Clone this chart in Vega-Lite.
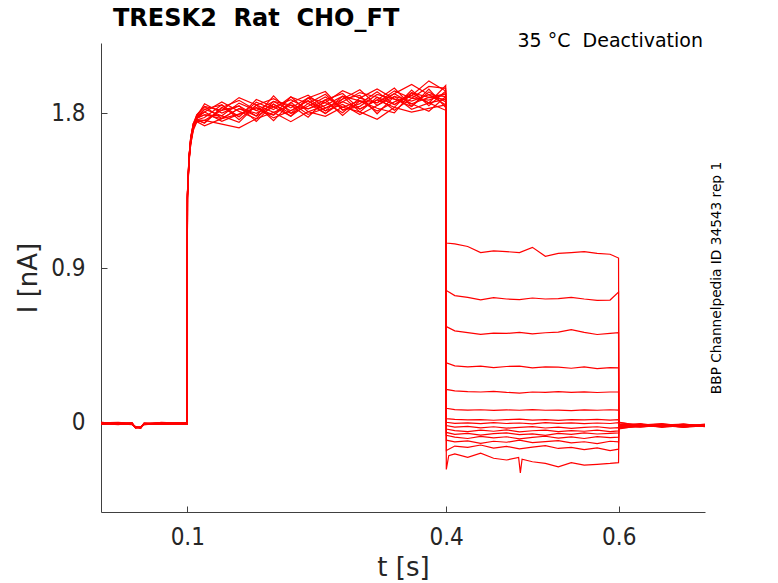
{
  "$schema": "https://vega.github.io/schema/vega-lite/v6.json",
  "width": 604,
  "height": 469,
  "autosize": {"type": "none"},
  "padding": {"left": 101, "top": 43, "right": 73, "bottom": 71},
  "background": "white",
  "config": {"view": {"stroke": null}},
  "layer": [
    {
      "data": {
        "values": [
          {"s":1,"t":0,"i":0.002},{"s":1,"t":0.02,"i":-0.006},{"s":1,"t":0.036,"i":-0.004},{"s":1,"t":0.04,"i":-0.025},{"s":1,"t":0.046,"i":-0.027},{"s":1,"t":0.05,"i":-0.005},{"s":1,"t":0.07,"i":-0.002},{"s":1,"t":0.0998,"i":-0.006},
          {"s":1,"t":0.1002,"i":1.33},{"s":1,"t":0.102,"i":1.54},{"s":1,"t":0.104,"i":1.65},{"s":1,"t":0.107,"i":1.73},{"s":1,"t":0.111,"i":1.78},
          {"s":1,"t":0.12,"i":1.822},{"s":1,"t":0.14,"i":1.784},{"s":1,"t":0.16,"i":1.858},{"s":1,"t":0.18,"i":1.815},{"s":1,"t":0.2,"i":1.788},{"s":1,"t":0.22,"i":1.894},{"s":1,"t":0.24,"i":1.856},{"s":1,"t":0.26,"i":1.797},{"s":1,"t":0.28,"i":1.882},{"s":1,"t":0.3,"i":1.935},{"s":1,"t":0.32,"i":1.844},{"s":1,"t":0.34,"i":1.913},{"s":1,"t":0.36,"i":1.966},{"s":1,"t":0.38,"i":1.907},{"s":1,"t":0.3995,"i":1.896},
          {"s":1,"t":0.4002,"i":1.045},{"s":1,"t":0.41,"i":1.04},{"s":1,"t":0.425,"i":1.025},{"s":1,"t":0.44,"i":0.99},{"s":1,"t":0.455,"i":1.0},{"s":1,"t":0.47,"i":0.995},{"s":1,"t":0.485,"i":0.99},{"s":1,"t":0.5,"i":1.02},{"s":1,"t":0.515,"i":0.968},{"s":1,"t":0.53,"i":0.985},{"s":1,"t":0.545,"i":0.99},{"s":1,"t":0.56,"i":0.995},{"s":1,"t":0.575,"i":0.985},{"s":1,"t":0.59,"i":0.98},{"s":1,"t":0.5998,"i":0.958},
          {"s":1,"t":0.6002,"i":-0.012},{"s":1,"t":0.625,"i":-0.02},{"s":1,"t":0.65,"i":-0.008},{"s":1,"t":0.675,"i":-0.018},{"s":1,"t":0.7,"i":-0.014},

          {"s":2,"t":0,"i":-0.008},{"s":2,"t":0.02,"i":0.001},{"s":2,"t":0.036,"i":-0.007},{"s":2,"t":0.04,"i":-0.022},{"s":2,"t":0.046,"i":-0.03},{"s":2,"t":0.05,"i":-0.003},{"s":2,"t":0.07,"i":-0.008},{"s":2,"t":0.0998,"i":0.002},
          {"s":2,"t":0.1002,"i":1.31},{"s":2,"t":0.102,"i":1.52},{"s":2,"t":0.104,"i":1.63},{"s":2,"t":0.107,"i":1.71},{"s":2,"t":0.111,"i":1.76},
          {"s":2,"t":0.12,"i":1.742},{"s":2,"t":0.14,"i":1.832},{"s":2,"t":0.16,"i":1.778},{"s":2,"t":0.18,"i":1.879},{"s":2,"t":0.2,"i":1.836},{"s":2,"t":0.22,"i":1.782},{"s":2,"t":0.24,"i":1.888},{"s":2,"t":0.26,"i":1.925},{"s":2,"t":0.28,"i":1.818},{"s":2,"t":0.3,"i":1.855},{"s":2,"t":0.32,"i":1.924},{"s":2,"t":0.34,"i":1.849},{"s":2,"t":0.36,"i":1.902},{"s":2,"t":0.38,"i":1.987},{"s":2,"t":0.3995,"i":1.928},
          {"s":2,"t":0.4002,"i":0.77},{"s":2,"t":0.41,"i":0.74},{"s":2,"t":0.425,"i":0.73},{"s":2,"t":0.44,"i":0.715},{"s":2,"t":0.455,"i":0.728},{"s":2,"t":0.47,"i":0.72},{"s":2,"t":0.485,"i":0.716},{"s":2,"t":0.5,"i":0.726},{"s":2,"t":0.515,"i":0.72},{"s":2,"t":0.53,"i":0.722},{"s":2,"t":0.545,"i":0.73},{"s":2,"t":0.56,"i":0.72},{"s":2,"t":0.575,"i":0.712},{"s":2,"t":0.59,"i":0.714},{"s":2,"t":0.5998,"i":0.76},
          {"s":2,"t":0.6002,"i":-0.005},{"s":2,"t":0.625,"i":-0.015},{"s":2,"t":0.65,"i":-0.022},{"s":2,"t":0.675,"i":-0.01},{"s":2,"t":0.7,"i":-0.017},

          {"s":3,"t":0,"i":-0.003},{"s":3,"t":0.02,"i":-0.009},{"s":3,"t":0.036,"i":0.002},{"s":3,"t":0.04,"i":-0.028},{"s":3,"t":0.046,"i":-0.024},{"s":3,"t":0.05,"i":-0.008},{"s":3,"t":0.07,"i":0.003},{"s":3,"t":0.0998,"i":-0.004},
          {"s":3,"t":0.1002,"i":1.34},{"s":3,"t":0.102,"i":1.55},{"s":3,"t":0.104,"i":1.66},{"s":3,"t":0.107,"i":1.74},{"s":3,"t":0.111,"i":1.77},
          {"s":3,"t":0.12,"i":1.806},{"s":3,"t":0.14,"i":1.864},{"s":3,"t":0.16,"i":1.81},{"s":3,"t":0.18,"i":1.767},{"s":3,"t":0.2,"i":1.868},{"s":3,"t":0.22,"i":1.846},{"s":3,"t":0.24,"i":1.776},{"s":3,"t":0.26,"i":1.877},{"s":3,"t":0.28,"i":1.914},{"s":3,"t":0.3,"i":1.823},{"s":3,"t":0.32,"i":1.876},{"s":3,"t":0.34,"i":1.945},{"s":3,"t":0.36,"i":1.838},{"s":3,"t":0.38,"i":1.923},{"s":3,"t":0.3995,"i":1.864},
          {"s":3,"t":0.4002,"i":0.56},{"s":3,"t":0.41,"i":0.535},{"s":3,"t":0.425,"i":0.525},{"s":3,"t":0.44,"i":0.515},{"s":3,"t":0.455,"i":0.522},{"s":3,"t":0.47,"i":0.52},{"s":3,"t":0.485,"i":0.526},{"s":3,"t":0.5,"i":0.518},{"s":3,"t":0.515,"i":0.524},{"s":3,"t":0.53,"i":0.528},{"s":3,"t":0.545,"i":0.542},{"s":3,"t":0.56,"i":0.526},{"s":3,"t":0.575,"i":0.514},{"s":3,"t":0.59,"i":0.52},{"s":3,"t":0.5998,"i":0.524},
          {"s":3,"t":0.6002,"i":-0.02},{"s":3,"t":0.625,"i":-0.008},{"s":3,"t":0.65,"i":-0.016},{"s":3,"t":0.675,"i":-0.024},{"s":3,"t":0.7,"i":-0.01},

          {"s":4,"t":0,"i":0.004},{"s":4,"t":0.02,"i":-0.003},{"s":4,"t":0.036,"i":-0.008},{"s":4,"t":0.04,"i":-0.024},{"s":4,"t":0.046,"i":-0.029},{"s":4,"t":0.05,"i":-0.002},{"s":4,"t":0.07,"i":-0.007},{"s":4,"t":0.0998,"i":-0.001},
          {"s":4,"t":0.1002,"i":1.3},{"s":4,"t":0.102,"i":1.51},{"s":4,"t":0.104,"i":1.62},{"s":4,"t":0.107,"i":1.7},{"s":4,"t":0.111,"i":1.75},
          {"s":4,"t":0.12,"i":1.758},{"s":4,"t":0.14,"i":1.736},{"s":4,"t":0.16,"i":1.714},{"s":4,"t":0.18,"i":1.767},{"s":4,"t":0.2,"i":1.804},{"s":4,"t":0.22,"i":1.75},{"s":4,"t":0.24,"i":1.808},{"s":4,"t":0.26,"i":1.781},{"s":4,"t":0.28,"i":1.834},{"s":4,"t":0.3,"i":1.807},{"s":4,"t":0.32,"i":1.764},{"s":4,"t":0.34,"i":1.833},{"s":4,"t":0.36,"i":1.806},{"s":4,"t":0.38,"i":1.827},{"s":4,"t":0.3995,"i":1.848},
          {"s":4,"t":0.4002,"i":0.35},{"s":4,"t":0.41,"i":0.332},{"s":4,"t":0.425,"i":0.326},{"s":4,"t":0.44,"i":0.33},{"s":4,"t":0.455,"i":0.322},{"s":4,"t":0.47,"i":0.328},{"s":4,"t":0.485,"i":0.33},{"s":4,"t":0.5,"i":0.32},{"s":4,"t":0.515,"i":0.326},{"s":4,"t":0.53,"i":0.324},{"s":4,"t":0.545,"i":0.318},{"s":4,"t":0.56,"i":0.326},{"s":4,"t":0.575,"i":0.316},{"s":4,"t":0.59,"i":0.322},{"s":4,"t":0.5998,"i":0.32},
          {"s":4,"t":0.6002,"i":0.002},{"s":4,"t":0.625,"i":-0.012},{"s":4,"t":0.65,"i":-0.018},{"s":4,"t":0.675,"i":-0.006},{"s":4,"t":0.7,"i":-0.02},

          {"s":5,"t":0,"i":-0.006},{"s":5,"t":0.02,"i":0.002},{"s":5,"t":0.036,"i":-0.003},{"s":5,"t":0.04,"i":-0.027},{"s":5,"t":0.046,"i":-0.023},{"s":5,"t":0.05,"i":-0.009},{"s":5,"t":0.07,"i":-0.001},{"s":5,"t":0.0998,"i":-0.008},
          {"s":5,"t":0.1002,"i":1.33},{"s":5,"t":0.102,"i":1.55},{"s":5,"t":0.104,"i":1.65},{"s":5,"t":0.107,"i":1.73},{"s":5,"t":0.111,"i":1.79},
          {"s":5,"t":0.12,"i":1.838},{"s":5,"t":0.14,"i":1.816},{"s":5,"t":0.16,"i":1.89},{"s":5,"t":0.18,"i":1.847},{"s":5,"t":0.2,"i":1.884},{"s":5,"t":0.22,"i":1.83},{"s":5,"t":0.24,"i":1.888},{"s":5,"t":0.26,"i":1.861},{"s":5,"t":0.28,"i":1.93},{"s":5,"t":0.3,"i":1.887},{"s":5,"t":0.32,"i":1.86},{"s":5,"t":0.34,"i":1.929},{"s":5,"t":0.36,"i":1.886},{"s":5,"t":0.38,"i":1.955},{"s":5,"t":0.3995,"i":1.944},
          {"s":5,"t":0.4002,"i":0.195},{"s":5,"t":0.41,"i":0.186},{"s":5,"t":0.425,"i":0.182},{"s":5,"t":0.44,"i":0.18},{"s":5,"t":0.455,"i":0.184},{"s":5,"t":0.47,"i":0.178},{"s":5,"t":0.485,"i":0.174},{"s":5,"t":0.5,"i":0.18},{"s":5,"t":0.515,"i":0.178},{"s":5,"t":0.53,"i":0.182},{"s":5,"t":0.545,"i":0.178},{"s":5,"t":0.56,"i":0.181},{"s":5,"t":0.575,"i":0.177},{"s":5,"t":0.59,"i":0.18},{"s":5,"t":0.5998,"i":0.18},
          {"s":5,"t":0.6002,"i":-0.025},{"s":5,"t":0.625,"i":-0.014},{"s":5,"t":0.65,"i":-0.006},{"s":5,"t":0.675,"i":-0.016},{"s":5,"t":0.7,"i":-0.012},

          {"s":6,"t":0,"i":-0.001},{"s":6,"t":0.02,"i":-0.007},{"s":6,"t":0.036,"i":-0.005},{"s":6,"t":0.04,"i":-0.023},{"s":6,"t":0.046,"i":-0.028},{"s":6,"t":0.05,"i":-0.004},{"s":6,"t":0.07,"i":0.002},{"s":6,"t":0.0998,"i":-0.005},
          {"s":6,"t":0.1002,"i":1.32},{"s":6,"t":0.102,"i":1.53},{"s":6,"t":0.104,"i":1.64},{"s":6,"t":0.107,"i":1.72},{"s":6,"t":0.111,"i":1.77},
          {"s":6,"t":0.12,"i":1.79},{"s":6,"t":0.14,"i":1.768},{"s":6,"t":0.16,"i":1.826},{"s":6,"t":0.18,"i":1.799},{"s":6,"t":0.2,"i":1.852},{"s":6,"t":0.22,"i":1.798},{"s":6,"t":0.24,"i":1.84},{"s":6,"t":0.26,"i":1.893},{"s":6,"t":0.28,"i":1.834},{"s":6,"t":0.3,"i":1.871},{"s":6,"t":0.32,"i":1.812},{"s":6,"t":0.34,"i":1.865},{"s":6,"t":0.36,"i":1.902},{"s":6,"t":0.38,"i":1.859},{"s":6,"t":0.3995,"i":1.88},
          {"s":6,"t":0.4002,"i":0.085},{"s":6,"t":0.41,"i":0.078},{"s":6,"t":0.425,"i":0.075},{"s":6,"t":0.44,"i":0.077},{"s":6,"t":0.455,"i":0.073},{"s":6,"t":0.47,"i":0.076},{"s":6,"t":0.485,"i":0.074},{"s":6,"t":0.5,"i":0.078},{"s":6,"t":0.515,"i":0.074},{"s":6,"t":0.53,"i":0.075},{"s":6,"t":0.545,"i":0.072},{"s":6,"t":0.56,"i":0.076},{"s":6,"t":0.575,"i":0.074},{"s":6,"t":0.59,"i":0.077},{"s":6,"t":0.5998,"i":0.075},
          {"s":6,"t":0.6002,"i":-0.01},{"s":6,"t":0.625,"i":-0.022},{"s":6,"t":0.65,"i":-0.012},{"s":6,"t":0.675,"i":-0.02},{"s":6,"t":0.7,"i":-0.006},

          {"s":7,"t":0,"i":0.003},{"s":7,"t":0.02,"i":-0.004},{"s":7,"t":0.036,"i":-0.009},{"s":7,"t":0.04,"i":-0.026},{"s":7,"t":0.046,"i":-0.025},{"s":7,"t":0.05,"i":-0.001},{"s":7,"t":0.07,"i":-0.006},{"s":7,"t":0.0998,"i":0.001},
          {"s":7,"t":0.1002,"i":1.31},{"s":7,"t":0.102,"i":1.54},{"s":7,"t":0.104,"i":1.63},{"s":7,"t":0.107,"i":1.73},{"s":7,"t":0.111,"i":1.76},
          {"s":7,"t":0.12,"i":1.774},{"s":7,"t":0.14,"i":1.848},{"s":7,"t":0.16,"i":1.762},{"s":7,"t":0.18,"i":1.847},{"s":7,"t":0.2,"i":1.756},{"s":7,"t":0.22,"i":1.862},{"s":7,"t":0.24,"i":1.904},{"s":7,"t":0.26,"i":1.829},{"s":7,"t":0.28,"i":1.866},{"s":7,"t":0.3,"i":1.919},{"s":7,"t":0.32,"i":1.892},{"s":7,"t":0.34,"i":1.817},{"s":7,"t":0.36,"i":1.886},{"s":7,"t":0.38,"i":1.875},{"s":7,"t":0.3995,"i":1.912},
          {"s":7,"t":0.4002,"i":0.025},{"s":7,"t":0.41,"i":0.021},{"s":7,"t":0.425,"i":0.018},{"s":7,"t":0.44,"i":0.02},{"s":7,"t":0.455,"i":0.016},{"s":7,"t":0.47,"i":0.019},{"s":7,"t":0.485,"i":0.022},{"s":7,"t":0.5,"i":0.017},{"s":7,"t":0.515,"i":0.019},{"s":7,"t":0.53,"i":0.015},{"s":7,"t":0.545,"i":0.02},{"s":7,"t":0.56,"i":0.018},{"s":7,"t":0.575,"i":0.021},{"s":7,"t":0.59,"i":0.017},{"s":7,"t":0.5998,"i":0.019},
          {"s":7,"t":0.6002,"i":-0.015},{"s":7,"t":0.625,"i":-0.004},{"s":7,"t":0.65,"i":-0.02},{"s":7,"t":0.675,"i":-0.01},{"s":7,"t":0.7,"i":-0.022},

          {"s":8,"t":0,"i":-0.007},{"s":8,"t":0.02,"i":-0.001},{"s":8,"t":0.036,"i":0.001},{"s":8,"t":0.04,"i":-0.029},{"s":8,"t":0.046,"i":-0.022},{"s":8,"t":0.05,"i":-0.007},{"s":8,"t":0.07,"i":-0.003},{"s":8,"t":0.0998,"i":-0.007},
          {"s":8,"t":0.1002,"i":1.34},{"s":8,"t":0.102,"i":1.53},{"s":8,"t":0.104,"i":1.66},{"s":8,"t":0.107,"i":1.72},{"s":8,"t":0.111,"i":1.78},
          {"s":8,"t":0.12,"i":1.854},{"s":8,"t":0.14,"i":1.8},{"s":8,"t":0.16,"i":1.842},{"s":8,"t":0.18,"i":1.783},{"s":8,"t":0.2,"i":1.836},{"s":8,"t":0.22,"i":1.878},{"s":8,"t":0.24,"i":1.824},{"s":8,"t":0.26,"i":1.861},{"s":8,"t":0.28,"i":1.802},{"s":8,"t":0.3,"i":1.887},{"s":8,"t":0.32,"i":1.94},{"s":8,"t":0.34,"i":1.881},{"s":8,"t":0.36,"i":1.838},{"s":8,"t":0.38,"i":1.939},{"s":8,"t":0.3995,"i":1.832},
          {"s":8,"t":0.4002,"i":0.004},{"s":8,"t":0.41,"i":-0.002},{"s":8,"t":0.425,"i":0.001},{"s":8,"t":0.44,"i":-0.004},{"s":8,"t":0.455,"i":0.002},{"s":8,"t":0.47,"i":-0.003},{"s":8,"t":0.485,"i":0.0},{"s":8,"t":0.5,"i":-0.005},{"s":8,"t":0.515,"i":0.002},{"s":8,"t":0.53,"i":-0.002},{"s":8,"t":0.545,"i":0.001},{"s":8,"t":0.56,"i":-0.004},{"s":8,"t":0.575,"i":0.0},{"s":8,"t":0.59,"i":-0.003},{"s":8,"t":0.5998,"i":0.002},
          {"s":8,"t":0.6002,"i":-0.008},{"s":8,"t":0.625,"i":-0.018},{"s":8,"t":0.65,"i":-0.01},{"s":8,"t":0.675,"i":-0.026},{"s":8,"t":0.7,"i":-0.015},

          {"s":9,"t":0,"i":-0.002},{"s":9,"t":0.02,"i":-0.008},{"s":9,"t":0.036,"i":-0.006},{"s":9,"t":0.04,"i":-0.024},{"s":9,"t":0.046,"i":-0.027},{"s":9,"t":0.05,"i":-0.003},{"s":9,"t":0.07,"i":0.001},{"s":9,"t":0.0998,"i":-0.003},
          {"s":9,"t":0.1002,"i":1.3},{"s":9,"t":0.102,"i":1.52},{"s":9,"t":0.104,"i":1.62},{"s":9,"t":0.107,"i":1.71},{"s":9,"t":0.111,"i":1.75},
          {"s":9,"t":0.12,"i":1.726},{"s":9,"t":0.14,"i":1.768},{"s":9,"t":0.16,"i":1.794},{"s":9,"t":0.18,"i":1.831},{"s":9,"t":0.2,"i":1.772},{"s":9,"t":0.22,"i":1.814},{"s":9,"t":0.24,"i":1.872},{"s":9,"t":0.26,"i":1.813},{"s":9,"t":0.28,"i":1.85},{"s":9,"t":0.3,"i":1.791},{"s":9,"t":0.32,"i":1.844},{"s":9,"t":0.34,"i":1.897},{"s":9,"t":0.36,"i":1.822},{"s":9,"t":0.38,"i":1.859},{"s":9,"t":0.3995,"i":1.816},
          {"s":9,"t":0.4002,"i":-0.015},{"s":9,"t":0.41,"i":-0.024},{"s":9,"t":0.425,"i":-0.02},{"s":9,"t":0.44,"i":-0.028},{"s":9,"t":0.455,"i":-0.022},{"s":9,"t":0.47,"i":-0.03},{"s":9,"t":0.485,"i":-0.025},{"s":9,"t":0.5,"i":-0.021},{"s":9,"t":0.515,"i":-0.029},{"s":9,"t":0.53,"i":-0.024},{"s":9,"t":0.545,"i":-0.031},{"s":9,"t":0.56,"i":-0.026},{"s":9,"t":0.575,"i":-0.022},{"s":9,"t":0.59,"i":-0.03},{"s":9,"t":0.5998,"i":-0.027},
          {"s":9,"t":0.6002,"i":-0.03},{"s":9,"t":0.625,"i":-0.01},{"s":9,"t":0.65,"i":-0.02},{"s":9,"t":0.675,"i":-0.012},{"s":9,"t":0.7,"i":-0.018},

          {"s":10,"t":0,"i":0.001},{"s":10,"t":0.02,"i":0.003},{"s":10,"t":0.036,"i":-0.004},{"s":10,"t":0.04,"i":-0.022},{"s":10,"t":0.046,"i":-0.03},{"s":10,"t":0.05,"i":-0.006},{"s":10,"t":0.07,"i":-0.008},{"s":10,"t":0.0998,"i":-0.002},
          {"s":10,"t":0.1002,"i":1.33},{"s":10,"t":0.102,"i":1.54},{"s":10,"t":0.104,"i":1.65},{"s":10,"t":0.107,"i":1.74},{"s":10,"t":0.111,"i":1.77},
          {"s":10,"t":0.12,"i":1.822},{"s":10,"t":0.14,"i":1.848},{"s":10,"t":0.16,"i":1.778},{"s":10,"t":0.18,"i":1.863},{"s":10,"t":0.2,"i":1.82},{"s":10,"t":0.22,"i":1.894},{"s":10,"t":0.24,"i":1.808},{"s":10,"t":0.26,"i":1.845},{"s":10,"t":0.28,"i":1.898},{"s":10,"t":0.3,"i":1.871},{"s":10,"t":0.32,"i":1.828},{"s":10,"t":0.34,"i":1.801},{"s":10,"t":0.36,"i":1.918},{"s":10,"t":0.38,"i":1.891},{"s":10,"t":0.3995,"i":1.912},
          {"s":10,"t":0.4002,"i":-0.035},{"s":10,"t":0.41,"i":-0.044},{"s":10,"t":0.425,"i":-0.05},{"s":10,"t":0.44,"i":-0.042},{"s":10,"t":0.455,"i":-0.048},{"s":10,"t":0.47,"i":-0.04},{"s":10,"t":0.485,"i":-0.052},{"s":10,"t":0.5,"i":-0.045},{"s":10,"t":0.515,"i":-0.041},{"s":10,"t":0.53,"i":-0.05},{"s":10,"t":0.545,"i":-0.044},{"s":10,"t":0.56,"i":-0.048},{"s":10,"t":0.575,"i":-0.042},{"s":10,"t":0.59,"i":-0.05},{"s":10,"t":0.5998,"i":-0.046},
          {"s":10,"t":0.6002,"i":0.005},{"s":10,"t":0.625,"i":-0.016},{"s":10,"t":0.65,"i":-0.008},{"s":10,"t":0.675,"i":-0.02},{"s":10,"t":0.7,"i":-0.011},

          {"s":11,"t":0,"i":-0.005},{"s":11,"t":0.02,"i":-0.005},{"s":11,"t":0.036,"i":-0.002},{"s":11,"t":0.04,"i":-0.027},{"s":11,"t":0.046,"i":-0.026},{"s":11,"t":0.05,"i":-0.008},{"s":11,"t":0.07,"i":-0.002},{"s":11,"t":0.0998,"i":0.003},
          {"s":11,"t":0.1002,"i":1.32},{"s":11,"t":0.102,"i":1.52},{"s":11,"t":0.104,"i":1.64},{"s":11,"t":0.107,"i":1.71},{"s":11,"t":0.111,"i":1.76},
          {"s":11,"t":0.12,"i":1.758},{"s":11,"t":0.14,"i":1.816},{"s":11,"t":0.16,"i":1.842},{"s":11,"t":0.18,"i":1.751},{"s":11,"t":0.2,"i":1.852},{"s":11,"t":0.22,"i":1.782},{"s":11,"t":0.24,"i":1.856},{"s":11,"t":0.26,"i":1.909},{"s":11,"t":0.28,"i":1.818},{"s":11,"t":0.3,"i":1.839},{"s":11,"t":0.32,"i":1.908},{"s":11,"t":0.34,"i":1.881},{"s":11,"t":0.36,"i":1.854},{"s":11,"t":0.38,"i":1.811},{"s":11,"t":0.3995,"i":1.896},
          {"s":11,"t":0.4002,"i":-0.055},{"s":11,"t":0.41,"i":-0.066},{"s":11,"t":0.425,"i":-0.06},{"s":11,"t":0.44,"i":-0.07},{"s":11,"t":0.455,"i":-0.062},{"s":11,"t":0.47,"i":-0.058},{"s":11,"t":0.485,"i":-0.068},{"s":11,"t":0.5,"i":-0.063},{"s":11,"t":0.515,"i":-0.072},{"s":11,"t":0.53,"i":-0.06},{"s":11,"t":0.545,"i":-0.066},{"s":11,"t":0.56,"i":-0.057},{"s":11,"t":0.575,"i":-0.064},{"s":11,"t":0.59,"i":-0.06},{"s":11,"t":0.5998,"i":-0.058},
          {"s":11,"t":0.6002,"i":-0.018},{"s":11,"t":0.625,"i":-0.024},{"s":11,"t":0.65,"i":-0.012},{"s":11,"t":0.675,"i":-0.006},{"s":11,"t":0.7,"i":-0.016},

          {"s":12,"t":0,"i":0.002},{"s":12,"t":0.02,"i":-0.002},{"s":12,"t":0.036,"i":-0.008},{"s":12,"t":0.04,"i":-0.025},{"s":12,"t":0.046,"i":-0.024},{"s":12,"t":0.05,"i":-0.002},{"s":12,"t":0.07,"i":-0.005},{"s":12,"t":0.0998,"i":-0.006},
          {"s":12,"t":0.1002,"i":1.31},{"s":12,"t":0.102,"i":1.53},{"s":12,"t":0.104,"i":1.63},{"s":12,"t":0.107,"i":1.72},{"s":12,"t":0.111,"i":1.78},
          {"s":12,"t":0.12,"i":1.806},{"s":12,"t":0.14,"i":1.752},{"s":12,"t":0.16,"i":1.794},{"s":12,"t":0.18,"i":1.831},{"s":12,"t":0.2,"i":1.788},{"s":12,"t":0.22,"i":1.862},{"s":12,"t":0.24,"i":1.792},{"s":12,"t":0.26,"i":1.829},{"s":12,"t":0.28,"i":1.882},{"s":12,"t":0.3,"i":1.903},{"s":12,"t":0.32,"i":1.796},{"s":12,"t":0.34,"i":1.897},{"s":12,"t":0.36,"i":1.87},{"s":12,"t":0.38,"i":1.907},{"s":12,"t":0.3995,"i":1.848},
          {"s":12,"t":0.4002,"i":-0.072},{"s":12,"t":0.41,"i":-0.082},{"s":12,"t":0.425,"i":-0.09},{"s":12,"t":0.44,"i":-0.078},{"s":12,"t":0.455,"i":-0.086},{"s":12,"t":0.47,"i":-0.08},{"s":12,"t":0.485,"i":-0.092},{"s":12,"t":0.5,"i":-0.084},{"s":12,"t":0.515,"i":-0.077},{"s":12,"t":0.53,"i":-0.088},{"s":12,"t":0.545,"i":-0.081},{"s":12,"t":0.56,"i":-0.09},{"s":12,"t":0.575,"i":-0.079},{"s":12,"t":0.59,"i":-0.085},{"s":12,"t":0.5998,"i":-0.082},
          {"s":12,"t":0.6002,"i":-0.012},{"s":12,"t":0.625,"i":-0.006},{"s":12,"t":0.65,"i":-0.026},{"s":12,"t":0.675,"i":-0.014},{"s":12,"t":0.7,"i":-0.02},

          {"s":13,"t":0,"i":-0.004},{"s":13,"t":0.02,"i":-0.006},{"s":13,"t":0.036,"i":0.0},{"s":13,"t":0.04,"i":-0.028},{"s":13,"t":0.046,"i":-0.029},{"s":13,"t":0.05,"i":-0.005},{"s":13,"t":0.07,"i":0.002},{"s":13,"t":0.0998,"i":-0.004},
          {"s":13,"t":0.1002,"i":1.33},{"s":13,"t":0.102,"i":1.55},{"s":13,"t":0.104,"i":1.64},{"s":13,"t":0.107,"i":1.73},{"s":13,"t":0.111,"i":1.76},
          {"s":13,"t":0.12,"i":1.742},{"s":13,"t":0.14,"i":1.832},{"s":13,"t":0.16,"i":1.874},{"s":13,"t":0.18,"i":1.815},{"s":13,"t":0.2,"i":1.868},{"s":13,"t":0.22,"i":1.814},{"s":13,"t":0.24,"i":1.872},{"s":13,"t":0.26,"i":1.797},{"s":13,"t":0.28,"i":1.866},{"s":13,"t":0.3,"i":1.823},{"s":13,"t":0.32,"i":1.876},{"s":13,"t":0.34,"i":1.833},{"s":13,"t":0.36,"i":1.934},{"s":13,"t":0.38,"i":1.843},{"s":13,"t":0.3995,"i":1.928},
          {"s":13,"t":0.4002,"i":-0.1},{"s":13,"t":0.41,"i":-0.11},{"s":13,"t":0.425,"i":-0.104},{"s":13,"t":0.44,"i":-0.118},{"s":13,"t":0.455,"i":-0.106},{"s":13,"t":0.47,"i":-0.112},{"s":13,"t":0.485,"i":-0.1},{"s":13,"t":0.5,"i":-0.114},{"s":13,"t":0.515,"i":-0.108},{"s":13,"t":0.53,"i":-0.103},{"s":13,"t":0.545,"i":-0.116},{"s":13,"t":0.56,"i":-0.109},{"s":13,"t":0.575,"i":-0.12},{"s":13,"t":0.59,"i":-0.106},{"s":13,"t":0.5998,"i":-0.11},
          {"s":13,"t":0.6002,"i":-0.022},{"s":13,"t":0.625,"i":-0.012},{"s":13,"t":0.65,"i":-0.004},{"s":13,"t":0.675,"i":-0.018},{"s":13,"t":0.7,"i":-0.009},

          {"s":14,"t":0,"i":0.0},{"s":14,"t":0.02,"i":0.002},{"s":14,"t":0.036,"i":-0.005},{"s":14,"t":0.04,"i":-0.023},{"s":14,"t":0.046,"i":-0.025},{"s":14,"t":0.05,"i":-0.009},{"s":14,"t":0.07,"i":-0.004},{"s":14,"t":0.0998,"i":0.0},
          {"s":14,"t":0.1002,"i":1.32},{"s":14,"t":0.102,"i":1.52},{"s":14,"t":0.104,"i":1.65},{"s":14,"t":0.107,"i":1.72},{"s":14,"t":0.111,"i":1.77},
          {"s":14,"t":0.12,"i":1.79},{"s":14,"t":0.14,"i":1.784},{"s":14,"t":0.16,"i":1.746},{"s":14,"t":0.18,"i":1.847},{"s":14,"t":0.2,"i":1.804},{"s":14,"t":0.22,"i":1.846},{"s":14,"t":0.24,"i":1.824},{"s":14,"t":0.26,"i":1.877},{"s":14,"t":0.28,"i":1.786},{"s":14,"t":0.3,"i":1.871},{"s":14,"t":0.32,"i":1.86},{"s":14,"t":0.34,"i":1.913},{"s":14,"t":0.36,"i":1.854},{"s":14,"t":0.38,"i":1.891},{"s":14,"t":0.3995,"i":1.88},
          {"s":14,"t":0.4002,"i":-0.16},{"s":14,"t":0.41,"i":-0.134},{"s":14,"t":0.425,"i":-0.142},{"s":14,"t":0.44,"i":-0.128},{"s":14,"t":0.455,"i":-0.146},{"s":14,"t":0.47,"i":-0.136},{"s":14,"t":0.485,"i":-0.15},{"s":14,"t":0.5,"i":-0.14},{"s":14,"t":0.515,"i":-0.132},{"s":14,"t":0.53,"i":-0.148},{"s":14,"t":0.545,"i":-0.142},{"s":14,"t":0.56,"i":-0.155},{"s":14,"t":0.575,"i":-0.145},{"s":14,"t":0.59,"i":-0.16},{"s":14,"t":0.5998,"i":-0.152},
          {"s":14,"t":0.6002,"i":-0.035},{"s":14,"t":0.625,"i":-0.015},{"s":14,"t":0.65,"i":-0.018},{"s":14,"t":0.675,"i":-0.008},{"s":14,"t":0.7,"i":-0.016},

          {"s":15,"t":0,"i":-0.006},{"s":15,"t":0.02,"i":-0.003},{"s":15,"t":0.036,"i":-0.007},{"s":15,"t":0.04,"i":-0.026},{"s":15,"t":0.046,"i":-0.028},{"s":15,"t":0.05,"i":-0.001},{"s":15,"t":0.07,"i":-0.007},{"s":15,"t":0.0998,"i":-0.005},
          {"s":15,"t":0.1002,"i":1.34},{"s":15,"t":0.102,"i":1.54},{"s":15,"t":0.104,"i":1.66},{"s":15,"t":0.107,"i":1.74},{"s":15,"t":0.111,"i":1.79},
          {"s":15,"t":0.12,"i":1.838},{"s":15,"t":0.14,"i":1.768},{"s":15,"t":0.16,"i":1.826},{"s":15,"t":0.18,"i":1.783},{"s":15,"t":0.2,"i":1.9},{"s":15,"t":0.22,"i":1.798},{"s":15,"t":0.24,"i":1.888},{"s":15,"t":0.26,"i":1.813},{"s":15,"t":0.28,"i":1.898},{"s":15,"t":0.3,"i":1.807},{"s":15,"t":0.32,"i":1.892},{"s":15,"t":0.34,"i":1.849},{"s":15,"t":0.36,"i":1.918},{"s":15,"t":0.38,"i":1.859},{"s":15,"t":0.3995,"i":1.96},
          {"s":15,"t":0.4002,"i":-0.27},{"s":15,"t":0.403,"i":-0.19},{"s":15,"t":0.41,"i":-0.18},{"s":15,"t":0.425,"i":-0.2},{"s":15,"t":0.44,"i":-0.175},{"s":15,"t":0.455,"i":-0.205},{"s":15,"t":0.47,"i":-0.215},{"s":15,"t":0.484,"i":-0.2},{"s":15,"t":0.486,"i":-0.29},{"s":15,"t":0.488,"i":-0.21},{"s":15,"t":0.5,"i":-0.225},{"s":15,"t":0.515,"i":-0.235},{"s":15,"t":0.53,"i":-0.255},{"s":15,"t":0.545,"i":-0.23},{"s":15,"t":0.56,"i":-0.245},{"s":15,"t":0.575,"i":-0.24},{"s":15,"t":0.59,"i":-0.235},{"s":15,"t":0.5998,"i":-0.23},
          {"s":15,"t":0.6002,"i":-0.03},{"s":15,"t":0.625,"i":-0.02},{"s":15,"t":0.65,"i":-0.014},{"s":15,"t":0.675,"i":-0.022},{"s":15,"t":0.7,"i":-0.012}
        ]
      },
      "mark": {"type": "line", "color": "#ff0000", "strokeWidth": 1.2},
      "encoding": {
        "x": {
          "field": "t",
          "type": "quantitative",
          "scale": {"domain": [0, 0.7], "nice": false, "zero": false},
          "axis": {
            "values": [0.1, 0.4, 0.6],
            "format": "~g",
            "title": "t [s]",
            "grid": false,
            "tickSize": -6,
            "labelPadding": 19,
            "domainColor": "#404040",
            "tickColor": "#404040",
            "labelColor": "#262626",
            "labelFont": "DejaVu Sans Condensed, DejaVu Sans",
            "labelFontSize": 24,
            "titleFont": "DejaVu Sans",
            "titleFontSize": 26,
            "titleFontWeight": "normal",
            "titleColor": "#262626",
            "titleBaseline": "alphabetic",
            "titleY": 63
          }
        },
        "y": {
          "field": "i",
          "type": "quantitative",
          "scale": {"domain": [-0.517, 2.207], "nice": false, "zero": false},
          "axis": {
            "values": [0, 0.9, 1.8],
            "format": "~g",
            "title": "I [nA]",
            "grid": false,
            "tickSize": -6,
            "labelPadding": 22,
            "domainColor": "#404040",
            "tickColor": "#404040",
            "labelColor": "#262626",
            "labelFont": "DejaVu Sans Condensed, DejaVu Sans",
            "labelFontSize": 24,
            "titleFont": "DejaVu Sans",
            "titleFontSize": 26,
            "titleFontWeight": "normal",
            "titleColor": "#262626",
            "titleAngle": 270,
            "titleBaseline": "alphabetic",
            "titleX": -65
          }
        },
        "detail": {"field": "s", "type": "nominal"}
      }
    },
    {
      "data": {"values": [{"label": "TRESK2\u00a0 Rat\u00a0 CHO_FT"}]},
      "mark": {"type": "text", "align": "left", "baseline": "alphabetic", "dx": 12, "font": "DejaVu Sans", "fontSize": 24, "fontWeight": "bold", "color": "black"},
      "encoding": {
        "x": {"datum": 0, "type": "quantitative"},
        "y": {"datum": 2.306, "type": "quantitative"},
        "text": {"field": "label", "type": "nominal"}
      }
    },
    {
      "data": {"values": [{"label": "35 °C\u00a0 Deactivation"}]},
      "mark": {"type": "text", "align": "right", "baseline": "alphabetic", "dx": -2, "font": "DejaVu Sans", "fontSize": 19, "color": "black"},
      "encoding": {
        "x": {"datum": 0.7, "type": "quantitative"},
        "y": {"datum": 2.181, "type": "quantitative"},
        "text": {"field": "label", "type": "nominal"}
      }
    },
    {
      "data": {"values": [{"label": "BBP Channelpedia ID 34543 rep 1"}]},
      "mark": {"type": "text", "align": "center", "baseline": "alphabetic", "angle": 270, "font": "DejaVu Sans", "fontSize": 13.7, "color": "black"},
      "encoding": {
        "x": {"datum": 0.7185, "type": "quantitative"},
        "y": {"datum": 0.842, "type": "quantitative"},
        "text": {"field": "label", "type": "nominal"}
      }
    }
  ]
}
